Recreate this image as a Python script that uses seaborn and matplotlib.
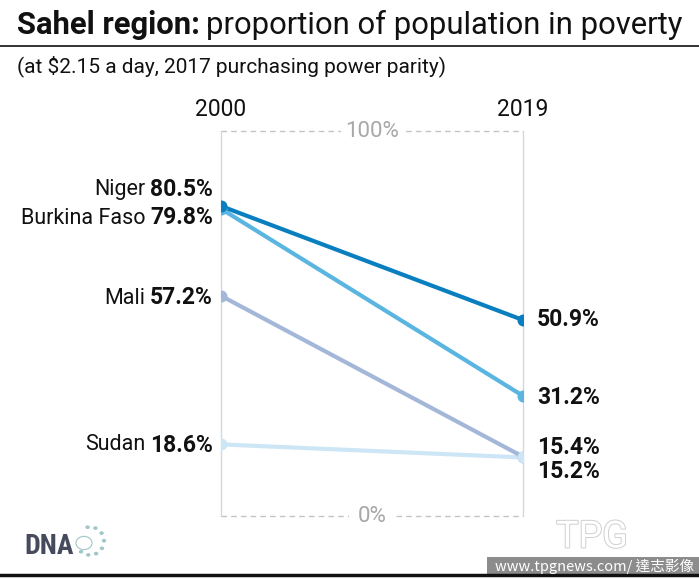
import matplotlib
matplotlib.use("Agg")
import matplotlib.pyplot as plt
import matplotlib.patheffects as pe
import seaborn as sns
import pandas as pd
import numpy as np
from matplotlib.patches import Rectangle, Circle

countries = ["Niger", "Burkina Faso", "Mali", "Sudan"]
years = ["2000", "2019"]
v2000 = [80.5, 79.8, 57.2, 18.6]
v2019 = [50.9, 31.2, 15.4, 15.2]
colors = ["#0a7fc0", "#5ab5e0", "#a5b7d8", "#cde6f6"]

rows = []
for c, a, b in zip(countries, v2000, v2019):
    rows.append({"country": c, "x": 0, "value": a})
    rows.append({"country": c, "x": 1, "value": b})
df = pd.DataFrame(rows)

sns.set_theme(style="white")
FONT = ["Roboto", "DejaVu Sans"]
plt.rcParams["font.family"] = FONT

W, H = 699, 579
fig = plt.figure(figsize=(W / 100, H / 100), dpi=100)
ax = fig.add_axes([221 / W, (H - 516) / H, 302 / W, 385 / H])

order = countries[::-1]
sns.lineplot(data=df, x="x", y="value", hue="country", hue_order=order,
             palette=dict(zip(countries, colors)), linewidth=3.0, legend=False,
             ax=ax, zorder=3)
# markers: Sudan's end point sits on top of Mali's
marker_order = ["Mali", "Sudan", "Burkina Faso", "Niger"]
for c in marker_order:
    col = colors[countries.index(c)]
    sub = df[df.country == c]
    ax.scatter(sub["x"], sub["value"], s=75, color=col, zorder=4, linewidths=0)

ax.set_xlim(0, 1)
ax.set_ylim(0, 100)
ax.set_axis_off()

ax.plot([0, 0], [0, 100], color="#d4d8de", lw=1, zorder=1, clip_on=False)
ax.plot([1, 1], [0, 100], color="#d4d8de", lw=1, zorder=1, clip_on=False)
ax.plot([0, 1], [100, 100], color="#c4c4c4", lw=1, ls=(0, (4, 3)), zorder=1, clip_on=False)
ax.plot([0, 1], [0, 0], color="#c4c4c4", lw=1, ls=(0, (4, 3)), zorder=1, clip_on=False)
ax.text(0.5, 100, "100%", ha="center", va="center", fontsize=16, color="#a8a8a8",
        bbox=dict(facecolor="white", edgecolor="none", pad=3), zorder=2)
ax.text(0.5, 0, "0%", ha="center", va="center", fontsize=16, color="#a8a8a8",
        bbox=dict(facecolor="white", edgecolor="none", pad=6), zorder=2)

for xi, yr in enumerate(years):
    ax.annotate(yr, (xi, 100), xytext=(0, 22), textcoords="offset pixels",
                ha="center", va="center", fontsize=16.5, color="#111111")

fig.canvas.draw()
renderer = fig.canvas.get_renderer()

left_y_px = {"Niger": 190, "Burkina Faso": 218, "Mali": 298, "Sudan": 445}
for c, v in zip(countries, v2000):
    ypix = H - left_y_px[c]
    xpix = ax.transData.transform((0, 0))[0] - 8
    t = fig.text(xpix / W, ypix / H, f"{v}%", ha="right", va="center",
                 fontsize=16.5, fontweight="bold", color="#111111")
    bb = t.get_window_extent(renderer)
    fig.text((bb.x0 - 5) / W, ypix / H, c, ha="right", va="center",
             fontsize=15.5, color="#111111")

right_y_px = [320, 397, 447, 471]
for v, yp in zip(v2019, right_y_px):
    xpix = ax.transData.transform((1, 0))[0] + 14
    fig.text(xpix / W, (H - yp) / H, f"{v}%", ha="left", va="center",
             fontsize=16.5, fontweight="bold", color="#111111")

t1 = fig.text(17 / W, (H - 25) / H, "Sahel region:", ha="left", va="center",
              fontsize=22.3, fontweight="bold", color="#111111")
bb = t1.get_window_extent(renderer)
fig.text((bb.x1 + 6) / W, (H - 25) / H, "proportion of population in poverty",
         ha="left", va="center", fontsize=22.3, color="#111111")
fig.text(17 / W, (H - 66) / H, "(at $2.15 a day, 2017 purchasing power parity)",
         ha="left", va="center", fontsize=15, color="#111111")

fig.add_artist(plt.Line2D([0, 1], [(H - 46) / H] * 2, color="#111111", lw=1.2))
fig.add_artist(plt.Line2D([0, 1], [(H - 575) / H] * 2, color="#111111", lw=2.5))

# DNA logo
fig.text(24 / W, (H - 546) / H, "DNA", ha="left", va="center", fontsize=20,
         fontweight="bold", color="#454a5c", family=["Roboto Condensed", "Roboto", "DejaVu Sans"])
for ang in np.linspace(100, -130, 8):
    cx = 90 + 14 * np.cos(np.radians(ang))
    cy = 541 - 14 * np.sin(np.radians(ang))
    fig.add_artist(Circle((cx / W, (H - cy) / H), 2.2 / W, transform=fig.transFigure,
                          facecolor="#9fc6c8", edgecolor="none"))
fig.add_artist(Circle((84 / W, (H - 543) / H), 8 / W, transform=fig.transFigure,
                      facecolor="none", edgecolor="#9fc6c8", lw=0.8))

fig.text(592 / W, (H - 537) / H, "TPG", ha="center", va="center", fontsize=27,
         color="white", path_effects=[pe.withStroke(linewidth=1.4, foreground="#cfcfcf")])
fig.add_artist(Rectangle((487 / W, (H - 574) / H), 212 / W, 17 / H,
                         transform=fig.transFigure, facecolor="#8c8c8c", edgecolor="none"))
fig.text(694 / W, (H - 566) / H, "www.tpgnews.com/ 達志影像", ha="right", va="center",
         fontsize=10.5, color="white", family=["Noto Sans CJK TC", "DejaVu Sans"])

fig.savefig("out.png", dpi=100)
